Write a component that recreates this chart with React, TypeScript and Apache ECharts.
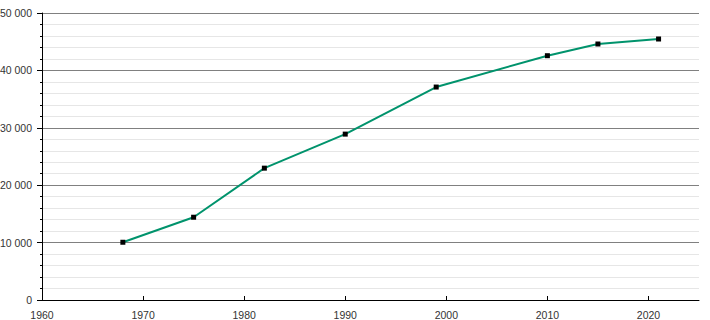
import React, { useEffect, useRef } from "react";
import * as echarts from "echarts";

const years = [1968, 1975, 1982, 1990, 1999, 2010, 2015, 2021];
const population = [10060, 14420, 22970, 28900, 37100, 42560, 44600, 45470];
const xTicks = [1960, 1970, 1980, 1990, 2000, 2010, 2020];

export default function App() {
  const ref = useRef<HTMLDivElement>(null);
  useEffect(() => {
    const chart = echarts.init(ref.current!, null, { renderer: "svg" });
    const font = { fontFamily: "Liberation Sans, Arial, sans-serif", fontSize: 10.5, color: "#333" };
    chart.setOption({
      animation: false,
      grid: { left: 42, right: 11, top: 13, bottom: 20, containLabel: false, outerBoundsMode: "none" },
      xAxis: {
        type: "value",
        min: 1960,
        max: 2025,
        interval: 10,
        axisLine: { lineStyle: { color: "#000", width: 1 } },
        axisTick: { inside: true, length: 4, lineStyle: { color: "#000" }, customValues: xTicks },
        axisLabel: { ...font, margin: 9, customValues: xTicks, formatter: (v: number) => String(v) },
        splitLine: { show: false },
      },
      yAxis: {
        type: "value",
        min: 0,
        max: 50000,
        interval: 10000,
        axisLine: { show: true, lineStyle: { color: "#000", width: 1 } },
        axisTick: { show: true, length: 5, lineStyle: { color: "#000" } },
        minorTick: { show: true, splitNumber: 5, length: 2, lineStyle: { color: "#000" } },
        axisLabel: {
          ...font,
          margin: 10,
          formatter: (v: number) => (v === 0 ? "0" : String(v).replace(/\B(?=(\d{3})+(?!\d))/g, " ")),
        },
        splitLine: { show: true, lineStyle: { color: "#808080", width: 1 } },
        minorSplitLine: { show: true, lineStyle: { color: "#e6e6e6", width: 1 } },
      },
      series: [
        {
          type: "line",
          data: years.map((y, i) => [y, population[i]]),
          symbol: "rect",
          symbolSize: 5,
          showSymbol: true,
          itemStyle: { color: "#000" },
          lineStyle: { color: "#00936c", width: 2 },
          z: 3,
        },
      ],
    });
    return () => chart.dispose();
  }, []);
  return <div ref={ref} style={{ position: "absolute", left: 0, top: 0, width: 710, height: 320 }} />;
}
